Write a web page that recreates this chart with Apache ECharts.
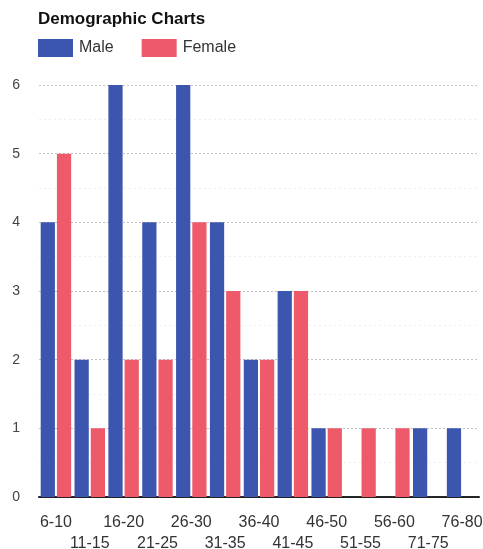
<!DOCTYPE html>
<html>
<head>
<meta charset="utf-8">
<script src="https://cdn.jsdelivr.net/npm/echarts@6/dist/echarts.min.js"></script>
<style>
  html, body { margin: 0; padding: 0; background: #fff; }
  #chart { width: 483px; height: 549px; }
</style>
</head>
<body>
<div id="chart"></div>
<script>
// Age groups and counts per gender
const ageGroups = ['6-10', '11-15', '16-20', '21-25', '26-30', '31-35', '36-40',
                   '41-45', '46-50', '51-55', '56-60', '71-75', '76-80'];
const maleCounts   = [4, 2, 6, 4, 6, 4, 2, 3, 1, 0, 0, 1, 1];
const femaleCounts = [5, 1, 2, 2, 4, 3, 2, 3, 1, 1, 1, 0, 0];
const yTicks = [0, 1, 2, 3, 4, 5, 6];

const MALE = '#3c55ae';
const FEMALE = '#ee5a69';
const FONT = 'Liberation Sans, Arial, sans-serif';

const chart = echarts.init(document.getElementById('chart'));
chart.setOption({
  animation: false,
  backgroundColor: '#fff',
  title: {
    text: 'Demographic Charts',
    left: 33, top: 6,
    textStyle: { fontFamily: FONT, fontSize: 17, fontWeight: 'bold', color: '#111' }
  },
  legend: {
    left: 38, top: 39,
    padding: 0,
    itemWidth: 35, itemHeight: 18, itemGap: 28,
    icon: 'rect',
    textStyle: { fontFamily: FONT, fontSize: 16, color: '#333', padding: [0, 0, 0, 1] },
    data: ['Male', 'Female']
  },
  grid: { left: 39, right: 4, top: 85, bottom: 52, containLabel: false, outerBoundsMode: 'none' },
  xAxis: {
    type: 'category',
    data: ageGroups,
    axisLine: { lineStyle: { color: '#222', width: 2, type: [2, 1] } },
    axisTick: { show: false },
    axisLabel: {
      interval: 0,
      margin: 15,
      color: '#333',
      fontFamily: FONT,
      fontSize: 16,
      lineHeight: 21,
      formatter: (v, i) => (i % 2 === 1 ? '\n' + v : v)
    }
  },
  yAxis: {
    type: 'value',
    min: yTicks[0], max: yTicks[yTicks.length - 1], interval: 1,
    axisLine: { show: false },
    axisTick: { show: false },
    axisLabel: {
      margin: 19, color: '#444',
      fontFamily: FONT, fontSize: 14
    },
    splitLine: { lineStyle: { color: '#c4c4c4', type: [2, 2], width: 1 } },
    minorTick: { show: false, splitNumber: 2 },
    minorSplitLine: { show: true, lineStyle: { color: '#eeeeee', type: [2, 3], width: 1 } }
  },
  series: [
    {
      name: 'Male', type: 'bar', data: maleCounts,
      itemStyle: { color: MALE },
      barGap: '14%', barCategoryGap: '10%'
    },
    {
      name: 'Female', type: 'bar', data: femaleCounts,
      itemStyle: { color: FEMALE },
      barGap: '14%', barCategoryGap: '10%'
    }
  ]
});
</script>
</body>
</html>
